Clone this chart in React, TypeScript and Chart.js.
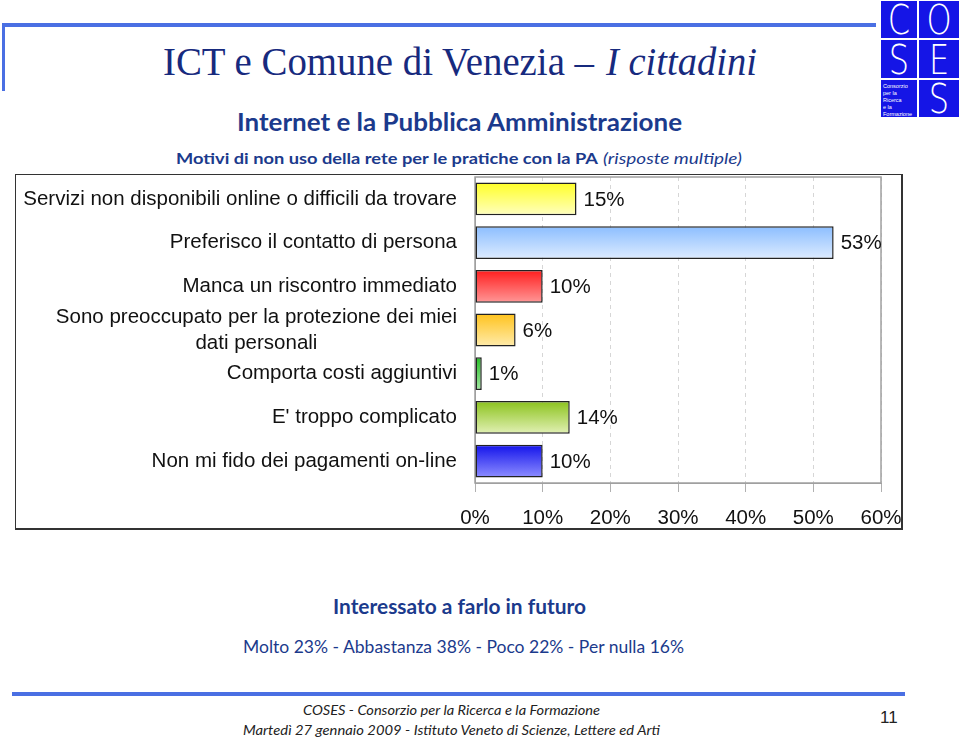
import React, { useEffect, useRef } from "react";
import { Chart, registerables } from "chart.js";
Chart.register(...registerables);

const categories: (string | string[])[] = [
  "Servizi non disponibili online o difficili da trovare",
  "Preferisco il contatto di persona",
  "Manca un riscontro immediato",
  ["Sono preoccupato per la protezione dei miei", "dati personali"],
  "Comporta costi aggiuntivi",
  "E' troppo complicato",
  "Non mi fido dei pagamenti on-line",
];
const values = [15, 53, 10, 6, 1, 14, 10];
const xMin = 0;
const xMax = 60;
const xStep = 10;
const barTopColors = ["#ffff28", "#8cbeff", "#ff1e1e", "#ffc31e", "#28be28", "#8cc31e", "#1414eb"];
const barBottomColors = ["#ffffbe", "#dcebff", "#ff9696", "#ffebaa", "#a0e6a0", "#e1f0b4", "#8c8cff"];

const SANS = '"Liberation Sans", Arial, sans-serif';
const CAL = 'Lato, "Open Sans", sans-serif';

export default function App() {
  const canvasRef = useRef<HTMLCanvasElement | null>(null);

  useEffect(() => {
    const canvas = canvasRef.current;
    if (!canvas) return;

    const plotBorder = {
      id: "plotBorder",
      beforeDatasetsDraw(chart: any) {
        const { ctx, chartArea } = chart;
        ctx.save();
        ctx.strokeStyle = "#a0a0a0";
        ctx.lineWidth = 1.5;
        ctx.strokeRect(chartArea.left, chartArea.top, chartArea.right - chartArea.left, chartArea.bottom - chartArea.top);
        ctx.restore();
      },
    };

    const labelsPlugin = {
      id: "labelsPlugin",
      afterDatasetsDraw(chart: any) {
        const { ctx, chartArea } = chart;
        const yScale = chart.scales.y;
        ctx.save();
        ctx.font = `20.5px ${SANS}`;
        ctx.fillStyle = "#111";
        ctx.textBaseline = "middle";
        const rightX = chartArea.left - 18;
        categories.forEach((lab, i) => {
          const y = yScale.getPixelForValue(i);
          const lines = Array.isArray(lab) ? lab : [lab];
          const maxW = Math.max(...lines.map((l) => ctx.measureText(l).width));
          const cx = rightX - maxW / 2;
          const lh = 26;
          const startY = y - ((lines.length - 1) * lh) / 2;
          ctx.textAlign = "center";
          lines.forEach((l, j) => ctx.fillText(l, cx, startY + j * lh));
        });
        ctx.textAlign = "left";
        const meta = chart.getDatasetMeta(0);
        meta.data.forEach((bar: any, i: number) => {
          ctx.fillText(values[i] + "%", bar.x + 7, bar.y + 1);
        });
        ctx.restore();
      },
    };

    const chart = new Chart(canvas, {
      type: "bar",
      data: {
        labels: categories as any,
        datasets: [
          {
            data: values,
            backgroundColor: (c: any) => {
              const ch = c.chart;
              const i = c.dataIndex;
              if (i === undefined || !ch.chartArea || !ch.scales.y) return barTopColors[0];
              const y = ch.scales.y.getPixelForValue(i);
              const g = ch.ctx.createLinearGradient(0, y - 16, 0, y + 16);
              g.addColorStop(0, barTopColors[i]);
              g.addColorStop(1, barBottomColors[i]);
              return g;
            },
            borderColor: "#222",
            borderWidth: 1.5,
            borderSkipped: false,
            categoryPercentage: 1,
            barPercentage: 0.75,
          },
        ],
      },
      options: {
        indexAxis: "y",
        animation: false,
        responsive: false,
        devicePixelRatio: 1,
        layout: { padding: { top: 2, right: 20, bottom: 2, left: 0 } },
        plugins: { legend: { display: false }, tooltip: { enabled: false } },
        scales: {
          x: {
            min: xMin,
            max: xMax,
            ticks: {
              stepSize: xStep,
              callback: (v: any) => v + "%",
              font: { family: SANS, size: 20.5 },
              color: "#111",
              padding: 14,
              maxRotation: 0,
            },
            grid: { color: "#d6d6d6", tickColor: "#b0b0b0", tickLength: 9, tickBorderDash: [] },
            border: { display: true, color: "#a0a0a0", dash: [4, 4] },
            afterFit: (s: any) => {
              s.height = 43;
              s.paddingLeft = 0;
              s.paddingRight = 0;
            },
          },
          y: {
            grid: { display: false },
            ticks: { display: false },
            border: { display: true, color: "#a0a0a0" },
            afterFit: (s: any) => {
              s.width = 459;
              s.paddingTop = 0;
              s.paddingBottom = 0;
            },
          },
        },
      },
      plugins: [plotBorder, labelsPlugin],
    } as any);

    return () => chart.destroy();
  }, []);

  const blue = "#4a6fe3";
  const logo = "#1515e6";
  const navy = "#1b3a8c";

  return (
    <div style={{ position: "absolute", left: 0, top: 0, width: 960, height: 737, background: "#fff", overflow: "hidden" }}>
      <svg width={960} height={737} viewBox="0 0 960 737" style={{ position: "absolute", left: 0, top: 0 }}>
        <rect x={3} y={23} width={873} height={4} fill={blue} />
        <rect x={2} y={23} width={3} height={68} fill={blue} />
        <rect x={881} y={1} width={36} height={37} fill={logo} />
        <rect x={919} y={1} width={40} height={37} fill={logo} />
        <rect x={881} y={40} width={36} height={38} fill={logo} />
        <rect x={919} y={40} width={40} height={38} fill={logo} />
        <rect x={881} y={80} width={36} height={37} fill={logo} />
        <rect x={919} y={80} width={40} height={37} fill={logo} />
        <g fill="#fff" fontFamily='"DejaVu Sans", sans-serif' fontWeight={200} fontSize={40} textAnchor="middle">
          <text x={899} y={34} transform="translate(899 34) scale(0.8 1) translate(-899 -34)">C</text>
          <text x={939} y={34} transform="translate(939 34) scale(0.8 1) translate(-939 -34)">O</text>
          <text x={899} y={74} transform="translate(899 74) scale(0.8 1) translate(-899 -74)">S</text>
          <text x={939} y={74} transform="translate(939 74) scale(0.8 1) translate(-939 -74)">E</text>
          <text x={939} y={113} transform="translate(939 113) scale(0.8 1) translate(-939 -113)">S</text>
        </g>
        <g fill="#fff" fontFamily={SANS} fontSize={5.5}>
          <text x={883} y={88}>Consorzio</text>
          <text x={883} y={95}>per la</text>
          <text x={883} y={102}>Ricerca</text>
          <text x={883} y={109}>e la</text>
          <text x={883} y={116}>Formazione</text>
        </g>
        <text x={163} y={75} fontFamily='"Liberation Serif", "Times New Roman", serif' fontSize={39} fill="#172a7e" textLength={431} lengthAdjust="spacingAndGlyphs">
          ICT e Comune di Venezia –
        </text>
        <text x={606} y={75} fontFamily='"Liberation Serif", "Times New Roman", serif' fontStyle="italic" fontSize={39} fill="#172a7e" textLength={151} lengthAdjust="spacingAndGlyphs">
          I cittadini
        </text>
        <text x={237} y={131} fontFamily={CAL} fontWeight={700} fontSize={24} fill={navy} textLength={445} lengthAdjust="spacingAndGlyphs">
          Internet e la Pubblica Amministrazione
        </text>
        <text x={176} y={164} fontFamily={CAL} fontWeight={700} fontSize={16} fill={navy} textLength={422} lengthAdjust="spacingAndGlyphs">
          Motivi di non uso della rete per le pratiche con la PA
        </text>
        <text x={603} y={164} fontFamily={CAL} fontStyle="italic" fontSize={16} fill={navy} textLength={139} lengthAdjust="spacingAndGlyphs">
          (risposte multiple)
        </text>
        <text x={333} y={614} fontFamily={CAL} fontWeight={700} fontSize={20} fill={navy} textLength={253} lengthAdjust="spacingAndGlyphs">
          Interessato a farlo in futuro
        </text>
        <text x={243} y={653} fontFamily={CAL} fontSize={17} fill={navy} textLength={441} lengthAdjust="spacingAndGlyphs">
          Molto 23% - Abbastanza 38% - Poco 22% - Per nulla 16%
        </text>
        <rect x={12} y={692} width={893} height={4} fill={blue} />
        <text x={303} y={715} fontFamily={CAL} fontStyle="italic" fontSize={14} fill="#222" textLength={297} lengthAdjust="spacingAndGlyphs">
          COSES - Consorzio per la Ricerca e la Formazione
        </text>
        <text x={243} y={735} fontFamily={CAL} fontStyle="italic" fontSize={14} fill="#222" textLength={417} lengthAdjust="spacingAndGlyphs">
          Martedì 27 gennaio 2009 - Istituto Veneto di Scienze, Lettere ed Arti
        </text>
        <text x={880} y={723} fontFamily={SANS} fontSize={17} fill="#222">
          11
        </text>
      </svg>
      <div
        style={{
          position: "absolute",
          left: 15,
          top: 174,
          width: 888,
          height: 356,
          borderStyle: "solid",
          borderColor: "#333",
          borderWidth: "1px 2px 2px 1px",
          boxSizing: "border-box",
          background: "#fff",
        }}
      >
        <canvas ref={canvasRef} width={885} height={353} style={{ position: "absolute", left: 0, top: 0, width: 885, height: 353 }} />
      </div>
    </div>
  );
}
